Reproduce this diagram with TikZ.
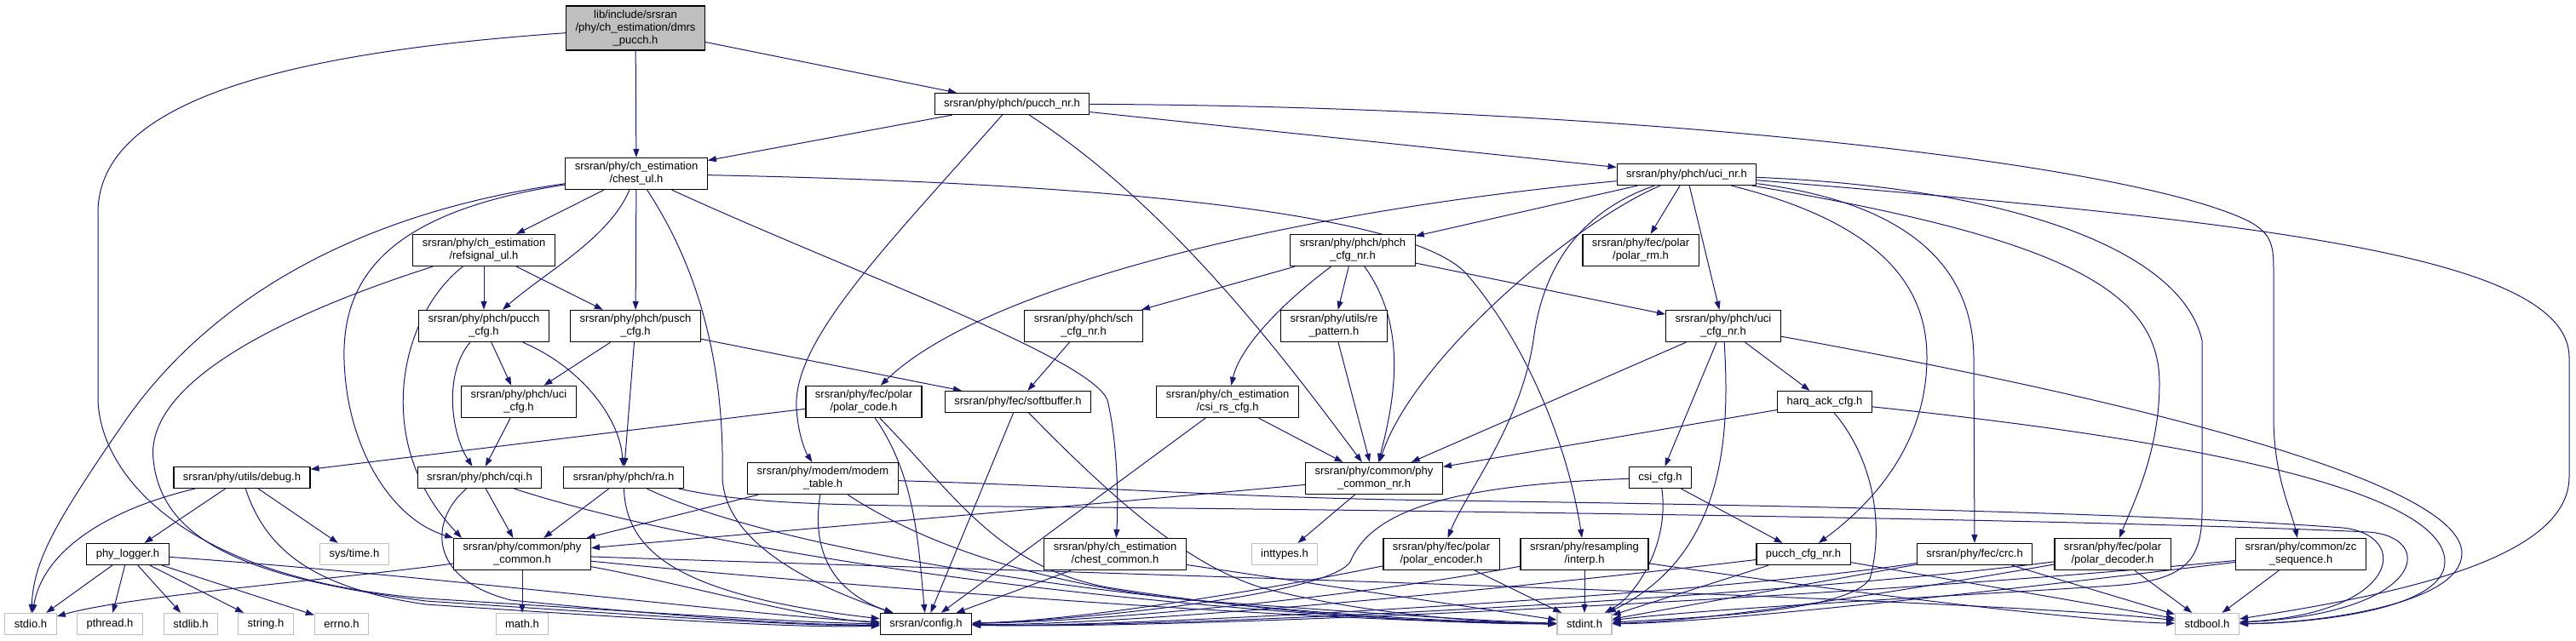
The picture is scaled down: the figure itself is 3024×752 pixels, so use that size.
\documentclass[tikz,border=0pt]{standalone}
\usepackage{fontspec}
\setmainfont{Liberation Sans}
\usetikzlibrary{arrows.meta}
\definecolor{edgeblue}{HTML}{191970}
\definecolor{sysgray}{HTML}{BFBFBF}
\pgfdeclarelayer{edges}
\pgfsetlayers{edges,main}

\begin{document}
\begin{tikzpicture}[x=1pt, y=-1pt, >={Triangle[length=10pt, width=7pt]},
    hdr/.style = {draw, line width=1.2pt, fill=white, align=center, inner xsep=11pt, inner ysep=5pt, minimum height=25pt, font=\fontsize{13}{15}\selectfont},
    sys/.style = {hdr, draw=sysgray},
    focus/.style = {hdr, fill=sysgray},
    dep/.style = {edgeblue, line width=1pt, ->}]
            \useasboundingbox (0,0) rectangle (3024,752);
            \node[focus] (1) at (746,33) {lib/include/srsran\\/phy/ch\_estimation/dmrs\\\_pucch.h};
            \node[hdr] (2) at (747,204) {srsran/phy/ch\_estimation\\/chest\_ul.h};
            \node[hdr] (3) at (1188,122) {srsran/phy/phch/pucch\_nr.h};
            \node[hdr] (4) at (1980,205) {srsran/phy/phch/uci\_nr.h};
            \node[hdr] (5) at (568,294) {srsran/phy/ch\_estimation\\/refsignal\_ul.h};
            \node[hdr] (6) at (1588,294) {srsran/phy/phch/phch\\\_cfg\_nr.h};
            \node[hdr] (7) at (1926,294) {srsran/phy/fec/polar\\/polar\_rm.h};
            \node[hdr] (8) at (568,383) {srsran/phy/phch/pucch\\\_cfg.h};
            \node[hdr] (9) at (746,383) {srsran/phy/phch/pusch\\\_cfg.h};
            \node[hdr] (10) at (1272,383) {srsran/phy/phch/sch\\\_cfg\_nr.h};
            \node[hdr] (11) at (1566,383) {srsran/phy/utils/re\\\_pattern.h};
            \node[hdr] (12) at (2023,383) {srsran/phy/phch/uci\\\_cfg\_nr.h};
            \node[hdr] (13) at (609,472) {srsran/phy/phch/uci\\\_cfg.h};
            \node[hdr] (14) at (1014,472) {srsran/phy/fec/polar\\/polar\_code.h};
            \node[hdr] (15) at (1195,472) {srsran/phy/fec/softbuffer.h};
            \node[hdr] (16) at (1441,472) {srsran/phy/ch\_estimation\\/csi\_rs\_cfg.h};
            \node[hdr] (17) at (2142,472) {harq\_ack\_cfg.h};
            \node[hdr] (18) at (284,561) {srsran/phy/utils/debug.h};
            \node[hdr] (19) at (563,561) {srsran/phy/phch/cqi.h};
            \node[hdr] (20) at (732,561) {srsran/phy/phch/ra.h};
            \node[hdr] (21) at (966,562) {srsran/phy/modem/modem\\\_table.h};
            \node[hdr] (22) at (1613,562) {srsran/phy/common/phy\\\_common\_nr.h};
            \node[hdr] (23) at (1949,561) {csi\_cfg.h};
            \node[hdr] (24) at (150,651) {phy\_logger.h};
            \node[sys] (25) at (416,651) {sys/time.h};
            \node[hdr] (26) at (613,651) {srsran/phy/common/phy\\\_common.h};
            \node[hdr] (27) at (1309,651) {srsran/phy/ch\_estimation\\/chest\_common.h};
            \node[sys] (28) at (1508,651) {inttypes.h};
            \node[hdr] (29) at (1692,651) {srsran/phy/fec/polar\\/polar\_encoder.h};
            \node[hdr] (30) at (1860,651) {srsran/phy/resampling\\/interp.h};
            \node[hdr] (31) at (2117,651) {pucch\_cfg\_nr.h};
            \node[hdr] (32) at (2318,651) {srsran/phy/fec/crc.h};
            \node[hdr] (33) at (2480,651) {srsran/phy/fec/polar\\/polar\_decoder.h};
            \node[hdr] (34) at (2701,651) {srsran/phy/common/zc\\\_sequence.h};
            \node[sys] (35) at (36,733) {stdio.h};
            \node[sys] (36) at (129,733) {pthread.h};
            \node[sys] (37) at (224,733) {stdlib.h};
            \node[sys] (38) at (312,733) {string.h};
            \node[sys] (39) at (401,733) {errno.h};
            \node[sys] (40) at (613,733) {math.h};
            \node[hdr] (41) at (1087,733) {srsran/config.h};
            \node[sys] (42) at (1860,733) {stdint.h};
            \node[sys] (43) at (2591,733) {stdbool.h};
            \begin{pgfonlayer}{edges}
            \draw [dep] (1) -- (2);
            \draw [dep] (1) -- (3);
            \draw [dep] (1) .. controls (330,62) and (115,120) .. (115,250) -- (115,470) .. controls (118,560) and (220,680) .. (500,703) .. controls (800,722) and (950,732) .. (41);
            \draw [dep] (2) .. controls (420,250) and (250,350) .. (150,490) .. controls (60,620) and (40,660) .. (35);
            \draw [dep] (2) .. controls (450,250) and (395,330) .. (405,440) .. controls (412,530) and (460,610) .. (26.north west);
            \draw [dep] (2) -- (5);
            \draw [dep] (2) .. controls (715,280) and (640,320) .. (8);
            \draw [dep] (2) -- (9);
            \draw [dep] (2) .. controls (830,330) and (850,450) .. (848,560) .. controls (850,640) and (960,690) .. (41);
            \draw [dep] (2) .. controls (1000,320) and (1280,420) .. (1300,470) .. controls (1312,520) and (1313,590) .. (27);
            \draw [dep] (2) .. controls (1300,215) and (1650,250) .. (1720,320) .. controls (1790,400) and (1840,520) .. (30);
            \draw [dep] (3) -- (2);
            \draw [dep] (3) -- (4);
            \draw [dep] (3) .. controls (1900,125) and (2500,190) .. (2640,260) .. controls (2668,275) and (2669,290) .. (2669,320) -- (2669,490) .. controls (2669,560) and (2690,600) .. (34);
            \draw [dep] (3) .. controls (1040,290) and (930,400) .. (935,480) .. controls (937,510) and (945,530) .. (21);
            \draw [dep] (3) .. controls (1370,240) and (1500,410) .. (22);
            \draw [dep] (5) -- (8);
            \draw [dep] (5) -- (9);
            \draw [dep] (5) .. controls (470,370) and (435,520) .. ([xshift=10pt]26.north west);
            \draw [dep] (5) .. controls (330,370) and (170,450) .. (180,540) .. controls (190,640) and (300,680) .. (500,706) .. controls (800,726) and (950,736) .. (41);
            \draw [dep] (8) -- (13);
            \draw [dep] (8) .. controls (520,440) and (530,510) .. (19);
            \draw [dep] (8) .. controls (680,430) and (728,490) .. (20);
            \draw [dep] (9) -- (13);
            \draw [dep] (9) -- (20);
            \draw [dep] (9) -- (15);
            \draw [dep] (13) -- (19);
            \draw [dep] (4) .. controls (1500,250) and (1150,340) .. (14);
            \draw [dep] (4) -- (6);
            \draw [dep] (4) .. controls (1850,260) and (1660,420) .. (22);
            \draw [dep] (4) .. controls (1850,250) and (1810,320) .. (1800,400) .. controls (1785,500) and (1720,580) .. (29);
            \draw [dep] (4) -- (7);
            \draw [dep] (4) -- (12);
            \draw [dep] (4) .. controls (2200,260) and (2262,330) .. (2262,420) .. controls (2262,520) and (2200,590) .. (31);
            \draw [dep] (4) .. controls (2250,240) and (2316,320) .. (2317,420) -- (32);
            \draw [dep] (4) .. controls (2420,280) and (2535,340) .. (2535,450) .. controls (2535,530) and (2505,590) .. (33);
            \draw [dep] (4) .. controls (2350,220) and (2560,290) .. (2585,400) -- (2585,600) .. controls (2585,660) and (2565,682) .. (2480,688) .. controls (2300,700) and (2000,715) .. (42);
            \draw [dep] (4) .. controls (2650,260) and (3016,300) .. (3016,420) -- (3016,560) .. controls (3016,660) and (2800,700) .. (43);
            \draw [dep] (6) -- (10);
            \draw [dep] (6) .. controls (1500,360) and (1455,410) .. (16);
            \draw [dep] (6) -- (11);
            \draw [dep] (6) .. controls (1650,380) and (1640,460) .. (22);
            \draw [dep] (6) -- (12);
            \draw [dep] (10) -- (15);
            \draw [dep] (11) -- (22);
            \draw [dep] (12) -- (22);
            \draw [dep] (12) -- (23);
            \draw [dep] (12) -- (17);
            \draw [dep] (12) .. controls (2030,500) and (2030,650) .. (42);
            \draw [dep] (12) .. controls (2450,460) and (2890,560) .. (2890,650) .. controls (2890,710) and (2720,732) .. (43);
            \draw [dep] (17) -- (22);
            \draw [dep] (17) .. controls (2200,540) and (2212,620) .. (2195,680) .. controls (2170,718) and (2000,725) .. (42);
            \draw [dep] (17) .. controls (2600,520) and (2870,580) .. (2870,660) .. controls (2870,715) and (2720,732) .. (43);
            \draw [dep] (14) -- (18);
            \draw [dep] (14) .. controls (1075,560) and (1078,640) .. (41);
            \draw [dep] (14) .. controls (1120,580) and (1170,665) .. (1300,690) .. controls (1500,722) and (1700,733) .. (42);
            \draw [dep] (15) -- (41);
            \draw [dep] (15) .. controls (1320,600) and (1400,665) .. (1480,690) .. controls (1600,722) and (1750,732) .. (42);
            \draw [dep] (16) -- (22);
            \draw [dep] (16) -- (41);
            \draw [dep] (18) .. controls (120,600) and (50,650) .. (35);
            \draw [dep] (18) -- (24);
            \draw [dep] (18) -- (25);
            \draw [dep] (18) .. controls (310,640) and (360,690) .. (500,710) .. controls (800,730) and (950,738) .. (41);
            \draw [dep] (24) -- (35);
            \draw [dep] (24) -- (36);
            \draw [dep] (24) -- (37);
            \draw [dep] (24) -- (38);
            \draw [dep] (24) -- (39);
            \draw [dep] (24) .. controls (500,675) and (900,725) .. (41);
            \draw [dep] (19) -- (26);
            \draw [dep] (19) .. controls (505,610) and (500,680) .. (600,705) .. controls (800,725) and (950,735) .. (41);
            \draw [dep] (19) .. controls (900,670) and (1500,730) .. (42);
            \draw [dep] (20) -- (26);
            \draw [dep] (20) .. controls (735,650) and (800,700) .. (41);
            \draw [dep] (20) .. controls (950,665) and (1500,728) .. (42);
            \draw [dep] (20) .. controls (850,585) and (900,592) .. (1060,594) .. controls (1800,600) and (2500,612) .. (2780,625) .. controls (2860,630) and (2850,720) .. (43);
            \draw [dep] (21) -- (26);
            \draw [dep] (21) .. controls (950,660) and (990,700) .. (41);
            \draw [dep] (21) .. controls (1100,650) and (1250,690) .. (1400,705) .. controls (1600,720) and (1750,730) .. (42);
            \draw [dep] (21) .. controls (1300,572) and (1450,585) .. (1700,588) .. controls (2200,595) and (2550,605) .. (2750,620) .. controls (2830,628) and (2820,720) .. (43);
            \draw [dep] (22) .. controls (1200,600) and (900,625) .. (26);
            \draw [dep] (22) -- (28);
            \draw [dep] (23) .. controls (1700,570) and (1610,600) .. (1585,660) .. controls (1560,700) and (1250,730) .. (41);
            \draw [dep] (23) .. controls (1960,640) and (1920,700) .. (42);
            \draw [dep] (23) -- (31);
            \draw [dep] (26) .. controls (400,680) and (150,700) .. (35);
            \draw [dep] (26) -- (40);
            \draw [dep] (26) .. controls (800,685) and (950,728) .. (41);
            \draw [dep] (26) .. controls (900,680) and (1500,730) .. (42);
            \draw [dep] (26) .. controls (1000,665) and (2300,700) .. (43);
            \draw [dep] (27) -- (41);
            \draw [dep] (27) -- (42);
            \draw [dep] (29) .. controls (1450,700) and (1250,730) .. (41);
            \draw [dep] (29) -- (42);
            \draw [dep] (30) .. controls (1600,700) and (1300,730) .. (41);
            \draw [dep] (30) -- (42);
            \draw [dep] (30) .. controls (2200,700) and (2450,730) .. (43);
            \draw [dep] (31) .. controls (1700,700) and (1300,735) .. (41);
            \draw [dep] (31) -- (42);
            \draw [dep] (31) -- (43);
            \draw [dep] (32) .. controls (2000,700) and (1300,738) .. (41);
            \draw [dep] (32) -- (42);
            \draw [dep] (32) -- (43);
            \draw [dep] (33) .. controls (2100,700) and (1400,738) .. (41);
            \draw [dep] (33) .. controls (2200,700) and (2000,730) .. (42);
            \draw [dep] (33) -- (43);
            \draw [dep] (34) .. controls (2200,700) and (1400,740) .. (41);
            \draw [dep] (34) .. controls (2300,700) and (2000,732) .. (42);
            \draw [dep] (34) -- (43);
            \end{pgfonlayer}
        \end{tikzpicture}
\end{document}
